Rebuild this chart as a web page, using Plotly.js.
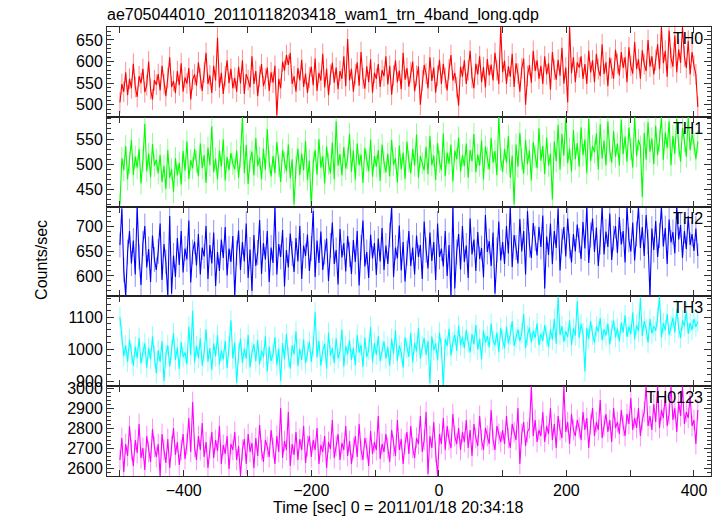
<!DOCTYPE html>
<html><head><meta charset="utf-8">
<script src="https://cdn.plot.ly/plotly-3.0.1.min.js"></script>
<style>html,body{margin:0;padding:0;background:#fff}</style>
</head><body><div id="chart" style="width:718px;height:516px"></div>
<script>
const startTime = -500;
const binWidth = 3;
const chartTitle = 'ae705044010_20110118203418_wam1_trn_4band_long.qdp';
const xTitle = 'Time [sec] 0 = 2011/01/18 20:34:18';
const yTitle = 'Counts/sec';
const bandLabels = ['TH0','TH1','TH2','TH3','TH0123'];
const bandErrors = [24, 22, 25, 32, 52];

const th0 = [
505,548,530,575,522,560,538,595,541,518,566,550,583,529,545,600,536,512,557,546,
571,533,590,548,520,562,610,541,555,527,578,545,596,530,563,549,585,512,558,570,
544,598,561,532,575,620,548,568,527,590,556,655,540,574,525,566,603,550,583,538,
562,530,588,549,603,525,571,557,540,612,548,578,520,565,594,543,560,586,532,575,
551,590,475,560,538,600,579,615,592,620,548,566,530,585,556,604,541,572,527,563,
588,545,607,532,574,556,618,540,583,522,569,597,551,586,536,578,560,612,543,652,
556,583,530,570,598,544,622,561,537,589,552,605,528,574,560,594,541,580,566,612,
547,590,523,568,603,552,579,536,620,558,585,542,575,600,531,567,589,500,556,592,
572,538,610,555,586,528,567,604,548,595,562,533,582,615,556,574,540,498,588,565,
603,548,580,625,562,538,595,570,612,552,587,540,606,568,593,556,620,580,548,680,
575,602,548,589,565,618,541,596,572,530,584,607,500,566,592,551,625,578,603,560,
590,548,612,570,596,535,622,581,558,604,567,632,549,586,505,680,573,610,552,598,
586,612,560,594,548,625,575,603,552,618,582,566,640,571,598,543,609,584,560,627,
595,568,622,585,610,552,633,590,572,645,583,605,560,626,594,578,650,588,612,570,
603,640,582,680,596,625,565,672,608,588,660,575,628,597,680,612,585,648,570,622,
590,570,495];

const th1 = [
420,512,488,536,470,503,548,479,515,493,530,462,507,580,486,521,474,540,497,509,
482,518,465,497,451,528,473,490,445,512,478,503,460,526,487,545,471,508,492,530,
505,476,541,492,518,463,533,498,575,484,511,470,527,495,549,468,514,488,522,501,
490,527,473,515,594,482,538,461,507,525,478,552,496,513,470,531,489,570,504,476,
516,482,544,497,465,528,503,486,539,472,510,420,495,531,478,521,488,546,469,507,
415,503,528,479,550,493,516,462,535,501,482,543,470,585,497,520,478,534,491,512,
560,485,527,470,541,498,519,463,532,507,486,549,475,516,495,528,467,539,503,484,
521,476,548,499,512,464,537,490,523,471,545,506,482,530,497,559,473,516,502,488,
534,480,556,498,517,469,542,505,488,561,476,523,501,539,466,527,510,553,485,518,
496,541,473,528,506,560,484,519,497,547,470,535,512,489,552,503,526,478,594,509,
485,530,503,556,473,517,420,539,495,562,510,481,548,500,527,468,544,515,492,571,
507,536,480,553,497,521,430,545,506,578,489,560,517,594,502,531,485,568,510,542,
495,573,518,549,482,590,506,536,524,561,490,579,511,547,498,585,527,503,566,515,
541,497,588,520,555,505,572,530,493,594,516,548,535,435,562,509,583,525,551,500,
576,518,547,594,509,563,532,585,498,556,521,590,537,505,572,546,515,594,528,560,
540,510,545];

const th2 = [
662,735,612,560,648,690,625,671,603,739,638,582,665,700,617,654,588,681,633,612,
649,705,592,664,628,560,720,565,641,598,676,622,690,607,655,633,711,587,648,669,
621,684,603,657,639,700,594,662,625,687,580,648,610,673,636,698,601,655,628,680,
560,646,691,612,668,629,705,596,653,570,682,620,647,712,604,666,633,690,588,657,
626,739,603,664,638,692,579,652,617,685,645,608,676,629,700,594,661,640,683,610,
655,730,598,671,626,689,612,648,675,590,661,707,624,652,583,694,637,666,609,680,
643,604,672,628,690,581,657,711,619,648,596,683,635,666,602,675,629,696,612,661,
624,682,739,598,657,635,701,611,668,589,646,690,620,657,603,681,638,662,594,709,
652,615,687,630,668,592,705,638,655,619,690,600,662,560,739,575,648,684,613,700,
628,661,596,715,643,673,610,688,634,656,597,722,648,670,620,687,565,652,709,631,
668,624,700,645,739,618,682,657,625,714,649,690,603,730,662,636,706,675,641,698,
658,721,575,679,642,705,624,690,656,735,611,670,698,639,715,660,627,684,649,703,
671,634,708,655,739,626,682,715,648,697,620,668,739,643,689,658,725,632,676,700,
646,718,663,690,627,739,672,649,707,631,684,739,656,698,640,722,668,560,695,652,
710,638,681,739,659,696,624,713,667,688,645,739,673,702,636,690,654,720,662,684,
650,695,640];

const th3 = [
1100,1045,978,1012,960,1030,985,948,1008,972,1035,955,990,1018,942,1003,968,1040,979,925,
996,960,1025,900,982,1012,945,998,1050,966,1005,938,1022,975,990,953,1070,982,1120,958,
1010,972,1035,948,990,1062,961,1003,935,1018,977,1044,952,995,968,1026,940,1008,1090,970,
1021,895,986,1033,957,1002,970,1045,943,990,1015,962,1028,952,996,974,1040,930,1007,963,
985,1038,950,1002,900,1019,968,1047,976,939,1012,984,1056,947,1001,966,1030,955,992,1023,
960,1008,1115,974,1026,948,995,1017,939,1052,980,1003,957,1034,971,992,1061,945,1010,983,
1028,966,1004,950,1045,989,1013,944,1036,975,998,1070,958,1019,982,1041,962,995,1024,970,
1007,948,1032,985,1058,964,1011,990,942,1037,1003,976,1050,958,1020,993,1066,970,1008,1035,
982,1025,893,1040,996,1018,965,1052,1002,885,1031,1010,1064,980,1022,1045,995,1073,1012,1038,
1003,1060,1021,990,1047,1015,1075,998,1032,968,1058,1020,1041,1005,1080,1027,1012,1052,990,1066,
1030,1002,1071,1018,1045,1088,1010,1036,1062,1025,1050,1110,1004,1043,1068,1021,1057,1035,1081,1012,
1048,1026,1075,1040,1006,1062,1030,1095,1017,1165,1044,1072,1023,1056,1038,1090,1012,1064,1042,1150,
1035,1078,1050,930,1066,1032,1088,1045,1020,1071,1054,1097,1028,1062,1043,1080,1015,1059,1090,1037,
1065,1024,1083,1052,1106,1038,1070,1047,1115,1030,1076,1055,1160,1041,1088,1063,1020,1094,1049,1072,
1057,1100,1165,1036,1081,1059,1110,1044,1073,1098,1052,1125,1066,1035,1090,1071,1118,1048,1082,1060,
1095,1070,1085];

const th0123 = [
2640,2750,2580,2720,2660,2810,2690,2610,2740,2675,2820,2650,2700,2590,2760,2680,2630,2795,2705,2655,
2720,2560,2770,2690,2625,2745,2600,2710,2800,2665,2730,2615,2690,2770,2645,2720,2850,2680,2930,2705,
2640,2760,2690,2825,2655,2730,2600,2700,2780,2650,2740,2685,2810,2620,2715,2670,2760,2595,2720,2690,
2780,2640,2710,2560,2690,2745,2620,2770,2680,2725,2600,2750,2660,2815,2690,2630,2740,2705,2655,2790,
2700,2620,2760,2680,2900,2650,2735,2690,2880,2610,2720,2665,2780,2640,2745,2690,2810,2625,2710,2760,
2655,2740,2690,2800,2620,2715,2680,2760,2600,2730,2695,2840,2650,2710,2770,2640,2725,2690,2810,2660,
2735,2620,2700,2760,2655,2820,2690,2640,2750,2700,2610,2785,2670,2730,2690,2860,2645,2720,2680,2770,
2700,2630,2790,2710,2660,2840,2690,2745,2620,2720,2780,2670,2810,2700,2650,2750,2720,2860,2680,2740,
2880,2570,2760,2700,2830,2680,2560,2770,2720,2850,2690,2810,2740,2700,2870,2760,2720,2800,2690,2780,
2730,2840,2700,2790,2660,2820,2750,2710,2860,2740,2690,2800,2760,2720,2890,2740,2690,2810,2770,2730,
2790,2720,2860,2750,2700,2820,2780,2740,2900,2620,2770,2830,2710,2780,2800,3009,2760,2840,2730,2790,
2760,2880,2730,2810,2770,2900,2740,2820,2700,2860,2790,2750,3009,2780,2830,2720,2870,2790,2760,2840,
2800,2740,2880,2790,2850,2700,2820,2900,2760,2830,2790,2940,2750,2810,2870,2780,2840,2730,2900,2800,
2830,2770,2890,2810,2760,2870,2820,2950,2790,2850,2800,2900,2760,2840,2880,3009,2810,2860,2790,2920,
2830,3009,2800,2890,2850,2960,2810,2870,3009,2840,2900,2780,2930,2860,3009,2820,2880,2850,2960,2810,
2840,2720,2890];

const bandValues = [th0, th1, th2, th3, th0123];
const times = th0.map((_, i) => startTime + i * binWidth);

const colors = ['#ff0000','#00ff00','#0000ff','#00ffff','#ff00ff'];
const paleColors = ['rgba(255,0,0,0.45)','rgba(0,255,0,0.45)','rgba(0,0,255,0.45)','rgba(0,255,255,0.45)','rgba(255,0,255,0.45)'];
const yRanges = [[472,680],[416,594],[559,739],[884,1165],[2560,3009]];
const yMajor = [50,50,50,100,100];
const yMinor = [10,10,10,20,20];
const xRange = [-520.3, 426.7];

const font = 'Liberation Sans, Arial, Helvetica, sans-serif';
const traces = [];
const layout = {
  width: 718, height: 516,
  margin: {l: 107, r: 7, t: 27, b: 40},
  paper_bgcolor: '#fff', plot_bgcolor: '#fff',
  showlegend: false,
  font: {family: font, size: 15, color: '#000'},
  title: {text: chartTitle, x: 0, xref: 'paper', xanchor: 'left', y: 1 - 14/516, yref: 'container', yanchor: 'middle', font: {family: font, size: 16, color: '#000'}},
  annotations: []
};

for (let i = 0; i < 5; i++) {
  const n = i === 0 ? '' : String(i + 1);
  traces.push({
    type: 'scatter', mode: 'lines',
    x: times, y: bandValues[i],
    xaxis: 'x' + n, yaxis: 'y' + n,
    line: {color: colors[i], width: 1.1},
    error_y: {type: 'constant', value: bandErrors[i], color: paleColors[i], thickness: 1, width: 0},
    hoverinfo: 'skip'
  });
  layout['xaxis' + n] = {
    anchor: 'y' + n, domain: [0, 1], range: xRange,
    matches: i === 0 ? undefined : 'x',
    showline: true, linecolor: '#222', linewidth: 1, mirror: 'ticks',
    ticks: 'inside', ticklen: 6, tickcolor: '#333',
    tick0: 0, dtick: 200,
    minor: {dtick: 100, ticks: 'inside', ticklen: 6, tickcolor: '#333'},
    showgrid: false, zeroline: false,
    showticklabels: i === 4,
    tickfont: {family: font, size: 16, color: '#000'}
  };
  layout['yaxis' + n] = {
    anchor: 'x' + n, domain: [(4 - i) * 0.2, (5 - i) * 0.2], range: yRanges[i],
    showline: true, linecolor: '#333', linewidth: 1, mirror: 'ticks',
    ticks: 'inside', ticklen: 7, tickcolor: '#333',
    tick0: 0, dtick: yMajor[i],
    minor: {dtick: yMinor[i], ticks: 'inside', ticklen: 4, tickcolor: '#333'},
    showgrid: false, zeroline: false,
    tickfont: {family: font, size: 16, color: '#000'}
  };
  layout.annotations.push({
    text: bandLabels[i], showarrow: false,
    xref: 'paper', x: 1, xanchor: 'right', xshift: -6,
    yref: 'y' + n + ' domain', y: 1, yanchor: 'top', yshift: -1,
    font: {family: font, size: 16, color: '#000'}
  });
}
layout.annotations.push({
  text: yTitle, showarrow: false, textangle: -90,
  xref: 'paper', x: (41 - 107) / 603, xanchor: 'center',
  yref: 'paper', y: 0.481, yanchor: 'middle',
  font: {family: font, size: 16, color: '#000'}
});
layout.annotations.push({
  text: xTitle, showarrow: false,
  xref: 'paper', x: 0.481, xanchor: 'center',
  yref: 'paper', y: -31 / 449, yanchor: 'middle',
  font: {family: font, size: 16, color: '#000'}
});

Plotly.newPlot('chart', traces, layout, {staticPlot: true, displayModeBar: false});
</script>
</body></html>
